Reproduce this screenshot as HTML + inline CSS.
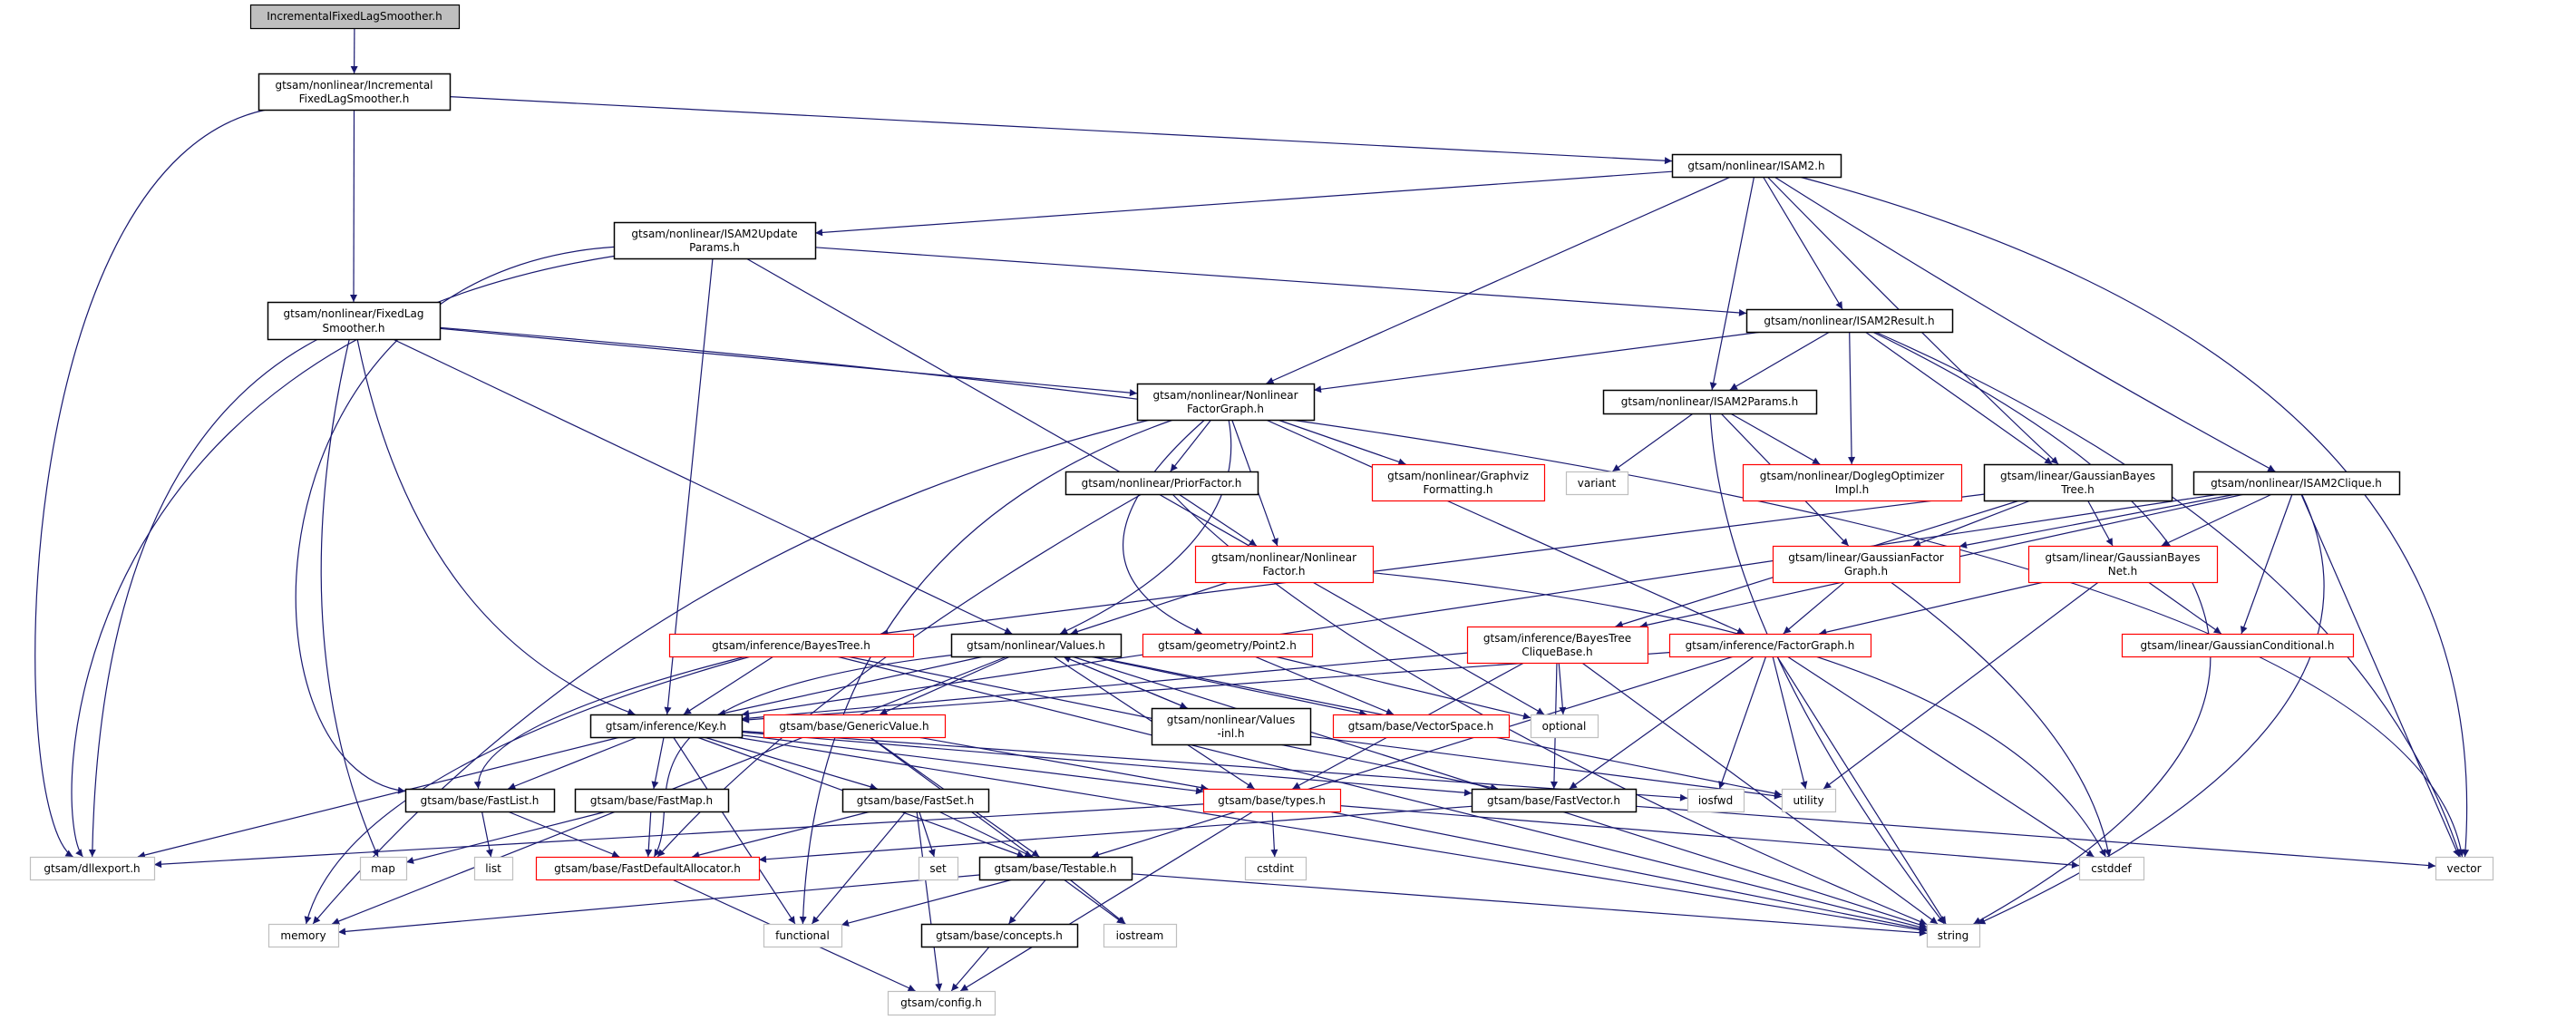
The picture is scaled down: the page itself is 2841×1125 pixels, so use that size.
<!DOCTYPE html>
<html><head><meta charset="utf-8">
<style>
html,body{margin:0;padding:0;background:#fff;}
svg{display:block;}
text{font-family:"DejaVu Sans","Liberation Sans",sans-serif;font-size:12px;fill:#000;}
</style></head>
<body>
<svg id="g" width="2841" height="1125" viewBox="0 0 2841 1125" xmlns="http://www.w3.org/2000/svg">
<defs>
<marker id="ar" viewBox="0 0 10 10" refX="10" refY="5" markerWidth="10" markerHeight="8" markerUnits="userSpaceOnUse" orient="auto">
<path d="M0,0 L10,5 L0,10 z" fill="#191970"/>
</marker>
</defs>
<g id="edges" fill="none" stroke="#191970" stroke-width="1.2"></g>
<g id="nodes"></g>
</svg>
<script>
var N={
top:[276,5,506,31,"g","IncrementalFixedLagSmoother.h"],
ifls:[285,81,496,121,"k","gtsam/nonlinear/Incremental|FixedLagSmoother.h"],
up:[677,245,899,285,"k","gtsam/nonlinear/ISAM2Update|Params.h"],
fls:[295,333,485,374,"k","gtsam/nonlinear/FixedLag|Smoother.h"],
isam2:[1844,170,2030,195,"k","gtsam/nonlinear/ISAM2.h"],
res:[1926,341,2153,366,"k","gtsam/nonlinear/ISAM2Result.h"],
nfg:[1254,423,1449,463,"k","gtsam/nonlinear/Nonlinear|FactorGraph.h"],
par:[1768,430,2003,456,"k","gtsam/nonlinear/ISAM2Params.h"],
prior:[1175,520,1387,545,"k","gtsam/nonlinear/PriorFactor.h"],
gviz:[1513,512,1703,552,"r","gtsam/nonlinear/Graphviz|Formatting.h"],
variant:[1727,520,1795,545,"x","variant"],
dog:[1922,512,2163,552,"r","gtsam/nonlinear/DoglegOptimizer|Impl.h"],
gbt:[2188,512,2395,552,"k","gtsam/linear/GaussianBayes|Tree.h"],
clq:[2419,520,2646,545,"k","gtsam/nonlinear/ISAM2Clique.h"],
nf:[1318,602,1514,642,"r","gtsam/nonlinear/Nonlinear|Factor.h"],
gfg:[1955,602,2161,642,"r","gtsam/linear/GaussianFactor|Graph.h"],
gbn:[2237,602,2445,642,"r","gtsam/linear/GaussianBayes|Net.h"],
bt:[738,699,1007,724,"r","gtsam/inference/BayesTree.h"],
val:[1049,699,1236,724,"k","gtsam/nonlinear/Values.h"],
p2:[1260,699,1447,724,"r","gtsam/geometry/Point2.h"],
btcb:[1618,691,1817,731,"r","gtsam/inference/BayesTree|CliqueBase.h"],
fg:[1841,699,2063,724,"r","gtsam/inference/FactorGraph.h"],
gc:[2340,699,2595,724,"r","gtsam/linear/GaussianConditional.h"],
key:[651,788,818,813,"k","gtsam/inference/Key.h"],
gv:[842,788,1042,813,"r","gtsam/base/GenericValue.h"],
vinl:[1270,781,1445,821,"k","gtsam/nonlinear/Values|-inl.h"],
vs:[1470,788,1664,813,"r","gtsam/base/VectorSpace.h"],
opt:[1688,788,1762,813,"x","optional"],
fl:[447,870,611,895,"k","gtsam/base/FastList.h"],
fm:[634,870,803,895,"k","gtsam/base/FastMap.h"],
fs:[929,870,1090,895,"k","gtsam/base/FastSet.h"],
ty:[1327,870,1478,895,"r","gtsam/base/types.h"],
fv:[1623,870,1804,895,"k","gtsam/base/FastVector.h"],
iosfwd:[1861,870,1923,895,"x","iosfwd"],
util:[1965,870,2024,895,"x","utility"],
dll:[33,945,170,970,"x","gtsam/dllexport.h"],
map:[397,945,448,970,"x","map"],
list:[523,945,565,970,"x","list"],
fda:[591,945,837,970,"r","gtsam/base/FastDefaultAllocator.h"],
set:[1013,945,1056,970,"x","set"],
test:[1080,945,1248,970,"k","gtsam/base/Testable.h"],
cstdint:[1373,945,1440,970,"x","cstdint"],
cstddef:[2293,945,2364,970,"x","cstddef"],
vector:[2686,945,2749,970,"x","vector"],
mem:[296,1019,373,1044,"x","memory"],
func:[842,1019,928,1044,"x","functional"],
conc:[1016,1019,1188,1044,"k","gtsam/base/concepts.h"],
ios:[1217,1019,1297,1044,"x","iostream"],
str:[2125,1019,2183,1044,"x","string"],
cfg:[979,1093,1097,1119,"x","gtsam/config.h"]
};
var E=[
["top","ifls"],["ifls","dll",[[8,180],[5,900]]],["ifls","isam2"],["ifls","fls"],
["up","dll",[[60,380],[55,900]]],["up","fl",[[260,300],[258,850]]],["up","key"],["up","opt"],["up","res"],
["isam2","up"],["isam2","nfg"],["isam2","par"],["isam2","res"],["isam2","gbt",[[2150,400]]],["isam2","clq",[[2250,380]]],["isam2","vector",[[2760,400]]],
["fls","dll",[[110,500]]],["fls","map",[[310,700]]],["fls","key",[[460,700]]],["fls","val"],["fls","nfg"],["fls","vector",[[2650,540]]],
["res","nfg"],["res","par"],["res","dog"],["res","gbt"],["res","vector",[[2600,600]]],["res","str",[[2750,700]]],
["par","variant"],["par","dog"],["par","gfg"],["par","str",[[1900,700]]],
["nfg","prior"],["nfg","gviz"],["nfg","nf"],["nfg","p2",[[1150,620]]],["nfg","fg"],["nfg","mem",[[700,600]]],["nfg","func",[[900,600]]],["nfg","val",[[1380,600]]],
["prior","nf"],["prior","fda",[[900,750]]],["prior","str",[[1500,760]]],
["gbt","bt"],["gbt","gfg"],["gbt","gbn"],["gbt","btcb"],
["clq","gbn"],["clq","gc"],["clq","gfg"],["clq","btcb"],["clq","key"],["clq","str",[[2660,800]]],["clq","vector"],
["nf","val"],["nf","cstddef",[[2200,700]]],
["gfg","fg"],["gfg","cstddef",[[2300,800]]],
["gbn","fg"],["gbn","gc"],["gbn","util"],
["bt","key"],["bt","mem",[[380,850]]],["bt","fl",[[520,800]]],["bt","fv"],["bt","str"],
["val","key"],["val","gv"],["val","vinl"],["val","vs"],["val","mem"],["val","str"],["val","util"],["val","ty"],["val","fda",[[650,770],[760,880]]],
["vinl","val"],["vinl","util"],
["p2","vs"],["p2","opt"],
["btcb","opt"],["btcb","fv"],["btcb","ty"],["btcb","key"],["btcb","str"],
["fg","key"],["fg","fv"],["fg","test"],["fg","iosfwd"],["fg","util"],["fg","str"],["fg","cstddef"],
["key","dll"],["key","fl"],["key","fm"],["key","fs"],["key","ty"],["key","fv"],["key","test"],["key","func"],["key","str"],["key","iosfwd"],
["gv","ty"],["gv","test"],["gv","ios"],
["fl","list"],["fl","fda"],["fm","map"],["fm","fda"],
["fs","set"],["fs","test"],["fs","func"],["fs","cfg"],["fs","fda"],
["ty","dll"],["ty","cstdint"],["ty","str"],["ty","cfg"],["ty","cstddef"],
["fv","fda"],["fv","vector"],
["test","mem"],["test","func"],["test","conc"],["test","ios"],["test","str"],
["conc","cfg"],["fda","cfg"]
];
var NS="http://www.w3.org/2000/svg";
function clip(r,px,py,qx,qy){
 // point on rect r boundary along segment from center p toward q
 var cx=(r[0]+r[2])/2,cy=(r[1]+r[3])/2,dx=qx-cx,dy=qy-cy,t=1e9;
 var hw=(r[2]-r[0])/2,hh=(r[3]-r[1])/2;
 if(dx!==0)t=Math.min(t,hw/Math.abs(dx));
 if(dy!==0)t=Math.min(t,hh/Math.abs(dy));
 return [cx+dx*t,cy+dy*t];
}
var eg=document.getElementById("edges");
E.forEach(function(e){
 var a=N[e[0]],b=N[e[1]],via=e[2]||[];
 var ac=[(a[0]+a[2])/2,(a[1]+a[3])/2],bc=[(b[0]+b[2])/2,(b[1]+b[3])/2];
 var f=via.length?via[0]:bc,l=via.length?via[via.length-1]:ac;
 var s=clip(a,0,0,f[0],f[1]),t=clip(b,0,0,l[0],l[1]);
 var pts=[s].concat(via).concat([t]);
 var d="M"+pts[0][0].toFixed(1)+","+pts[0][1].toFixed(1);
 if(pts.length==2){d+=" L"+t[0].toFixed(1)+","+t[1].toFixed(1);}
 else if(pts.length==3){d+=" Q"+pts[1][0]+","+pts[1][1]+" "+t[0].toFixed(1)+","+t[1].toFixed(1);}
 else{d+=" C"+pts[1][0]+","+pts[1][1]+" "+pts[2][0]+","+pts[2][1]+" "+t[0].toFixed(1)+","+t[1].toFixed(1);}
 var p=document.createElementNS(NS,"path");p.setAttribute("d",d);p.setAttribute("marker-end","url(#ar)");eg.appendChild(p);
});
var ng=document.getElementById("nodes");
for(var k in N){var r=N[k];
 var rc=document.createElementNS(NS,"rect");
 rc.setAttribute("x",r[0]+0.5);rc.setAttribute("y",r[1]+0.5);rc.setAttribute("width",r[2]-r[0]);rc.setAttribute("height",r[3]-r[1]);
 var st={g:["#bfbfbf","#000"],k:["#fff","#000"],r:["#fff","#ff0000"],x:["#fff","#bfbfbf"]}[r[4]];
 rc.setAttribute("fill",st[0]);rc.setAttribute("stroke",st[1]);rc.setAttribute("stroke-width",r[4]=="k"?"1.5":"1.2");
 ng.appendChild(rc);
}
</script>
<svg style="position:absolute;left:0;top:0" width="2841" height="1125" xmlns="http://www.w3.org/2000/svg">
<g font-family="DejaVu Sans, Liberation Sans, sans-serif" font-size="12" text-anchor="middle" fill="#000">
<text x="391" y="22">IncrementalFixedLagSmoother.h</text>
<text x="390.5" y="98">gtsam/nonlinear/Incremental</text><text x="390.5" y="113">FixedLagSmoother.h</text>
<text x="788" y="262">gtsam/nonlinear/ISAM2Update</text><text x="788" y="277">Params.h</text>
<text x="390" y="350">gtsam/nonlinear/FixedLag</text><text x="390" y="366">Smoother.h</text>
<text x="1937" y="187">gtsam/nonlinear/ISAM2.h</text>
<text x="2039.5" y="358">gtsam/nonlinear/ISAM2Result.h</text>
<text x="1351.5" y="440">gtsam/nonlinear/Nonlinear</text><text x="1351.5" y="455">FactorGraph.h</text>
<text x="1885.5" y="447">gtsam/nonlinear/ISAM2Params.h</text>
<text x="1281" y="537">gtsam/nonlinear/PriorFactor.h</text>
<text x="1608" y="529">gtsam/nonlinear/Graphviz</text><text x="1608" y="544">Formatting.h</text>
<text x="1761" y="537">variant</text>
<text x="2042.5" y="529">gtsam/nonlinear/DoglegOptimizer</text><text x="2042.5" y="544">Impl.h</text>
<text x="2291.5" y="529">gtsam/linear/GaussianBayes</text><text x="2291.5" y="544">Tree.h</text>
<text x="2532.5" y="537">gtsam/nonlinear/ISAM2Clique.h</text>
<text x="1416" y="619">gtsam/nonlinear/Nonlinear</text><text x="1416" y="634">Factor.h</text>
<text x="2058" y="619">gtsam/linear/GaussianFactor</text><text x="2058" y="634">Graph.h</text>
<text x="2341" y="619">gtsam/linear/GaussianBayes</text><text x="2341" y="634">Net.h</text>
<text x="872.5" y="716">gtsam/inference/BayesTree.h</text>
<text x="1142.5" y="716">gtsam/nonlinear/Values.h</text>
<text x="1353.5" y="716">gtsam/geometry/Point2.h</text>
<text x="1717.5" y="708">gtsam/inference/BayesTree</text><text x="1717.5" y="723">CliqueBase.h</text>
<text x="1952" y="716">gtsam/inference/FactorGraph.h</text>
<text x="2467.5" y="716">gtsam/linear/GaussianConditional.h</text>
<text x="734.5" y="805">gtsam/inference/Key.h</text>
<text x="942" y="805">gtsam/base/GenericValue.h</text>
<text x="1357.5" y="798">gtsam/nonlinear/Values</text><text x="1357.5" y="813">-inl.h</text>
<text x="1567" y="805">gtsam/base/VectorSpace.h</text>
<text x="1725" y="805">optional</text>
<text x="529" y="887">gtsam/base/FastList.h</text>
<text x="718.5" y="887">gtsam/base/FastMap.h</text>
<text x="1009.5" y="887">gtsam/base/FastSet.h</text>
<text x="1402.5" y="887">gtsam/base/types.h</text>
<text x="1713.5" y="887">gtsam/base/FastVector.h</text>
<text x="1892" y="887">iosfwd</text>
<text x="1994.5" y="887">utility</text>
<text x="101.5" y="962">gtsam/dllexport.h</text>
<text x="422.5" y="962">map</text>
<text x="544" y="962">list</text>
<text x="714" y="962">gtsam/base/FastDefaultAllocator.h</text>
<text x="1034.5" y="962">set</text>
<text x="1164" y="962">gtsam/base/Testable.h</text>
<text x="1406.5" y="962">cstdint</text>
<text x="2328.5" y="962">cstddef</text>
<text x="2717.5" y="962">vector</text>
<text x="334.5" y="1036">memory</text>
<text x="885" y="1036">functional</text>
<text x="1102" y="1036">gtsam/base/concepts.h</text>
<text x="1257" y="1036">iostream</text>
<text x="2154" y="1036">string</text>
<text x="1038" y="1110">gtsam/config.h</text>
</g>
</svg>
</body></html>
